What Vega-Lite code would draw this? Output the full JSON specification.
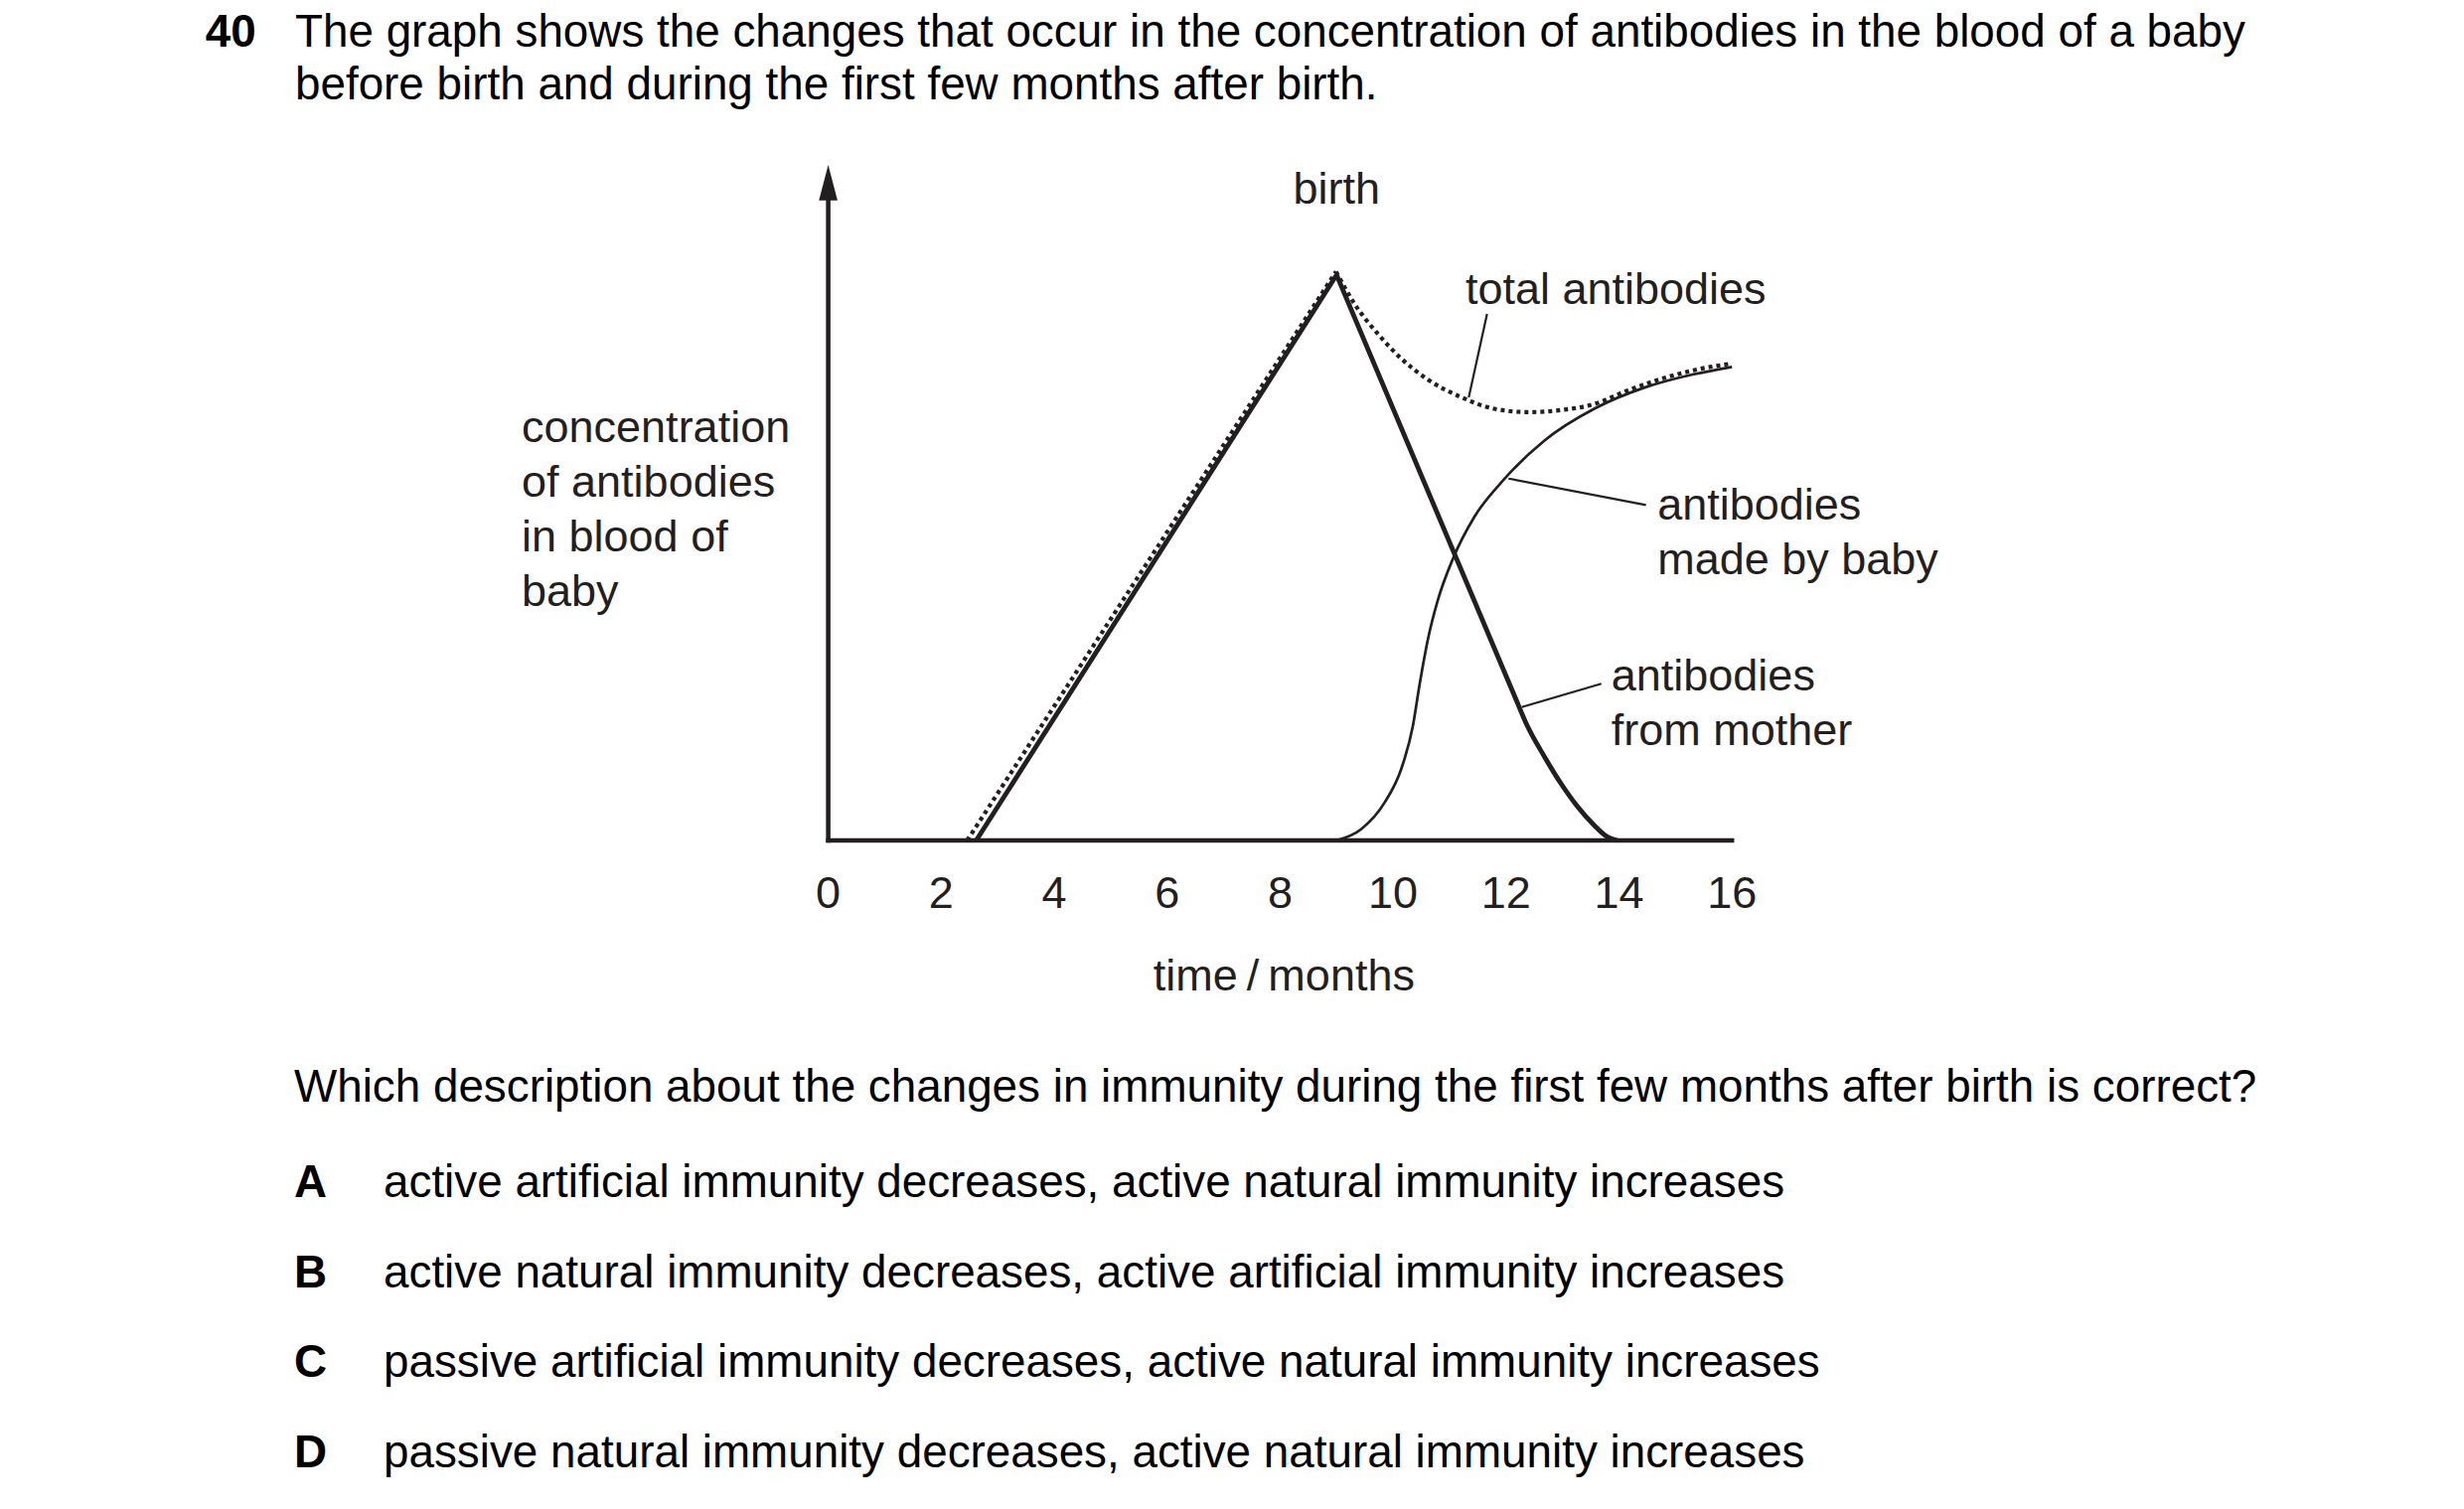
{
  "$schema": "https://vega.github.io/schema/vega-lite/v6.json",
  "width": 2480,
  "height": 1519,
  "autosize": {"type": "fit", "contains": "padding"},
  "padding": 0,
  "background": "white",
  "config": {"view": {"stroke": null}, "text": {"font": "Liberation Sans"}},
  "datasets": {
    "curves": [
      {"series": "mother", "seg": "rise", "month": 2.62, "conc": 0},
      {"series": "mother", "seg": "rise", "month": 9.0, "conc": 83.7},
      {"series": "mother", "seg": "fall", "month": 9.0, "conc": 83.7},
      {"series": "mother", "seg": "fall", "month": 12.15, "conc": 21.4},
      {"series": "mother", "seg": "fall", "month": 12.38, "conc": 16.9},
      {"series": "mother", "seg": "fall", "month": 12.68, "conc": 12.4},
      {"series": "mother", "seg": "fall", "month": 12.97, "conc": 8.45},
      {"series": "mother", "seg": "fall", "month": 13.26, "conc": 5.07},
      {"series": "mother", "seg": "fall", "month": 13.56, "conc": 2.25},
      {"series": "mother", "seg": "fall", "month": 13.79, "conc": 0.56},
      {"series": "mother", "seg": "fall", "month": 13.97, "conc": 0},
      {"series": "baby", "seg": "all", "month": 9.0, "conc": 0},
      {"series": "baby", "seg": "all", "month": 9.44, "conc": 1.7},
      {"series": "baby", "seg": "all", "month": 9.85, "conc": 5.6},
      {"series": "baby", "seg": "all", "month": 10.15, "conc": 10.7},
      {"series": "baby", "seg": "all", "month": 10.35, "conc": 16.9},
      {"series": "baby", "seg": "all", "month": 10.47, "conc": 23.1},
      {"series": "baby", "seg": "all", "month": 10.62, "conc": 29.9},
      {"series": "baby", "seg": "all", "month": 10.79, "conc": 35.5},
      {"series": "baby", "seg": "all", "month": 11.06, "conc": 41.7},
      {"series": "baby", "seg": "all", "month": 11.44, "conc": 47.9},
      {"series": "baby", "seg": "all", "month": 11.97, "conc": 53.5},
      {"series": "baby", "seg": "all", "month": 12.68, "conc": 59.2},
      {"series": "baby", "seg": "all", "month": 13.56, "conc": 63.9},
      {"series": "baby", "seg": "all", "month": 14.44, "conc": 67.0},
      {"series": "baby", "seg": "all", "month": 15.32, "conc": 69.0},
      {"series": "baby", "seg": "all", "month": 16.0, "conc": 70.1},
      {"series": "total", "seg": "rise", "month": 2.46, "conc": 0},
      {"series": "total", "seg": "rise", "month": 8.99, "conc": 84.2},
      {"series": "total", "seg": "fall", "month": 8.99, "conc": 84.2},
      {"series": "total", "seg": "fall", "month": 9.32, "conc": 79.4},
      {"series": "total", "seg": "fall", "month": 9.74, "conc": 74.9},
      {"series": "total", "seg": "fall", "month": 10.15, "conc": 71.3},
      {"series": "total", "seg": "fall", "month": 10.62, "conc": 68.2},
      {"series": "total", "seg": "fall", "month": 11.21, "conc": 65.6},
      {"series": "total", "seg": "fall", "month": 11.79, "conc": 63.9},
      {"series": "total", "seg": "fall", "month": 12.38, "conc": 63.4},
      {"series": "total", "seg": "fall", "month": 12.97, "conc": 63.7},
      {"series": "total", "seg": "fall", "month": 13.56, "conc": 64.6},
      {"series": "total", "seg": "fall", "month": 14.15, "conc": 66.6},
      {"series": "total", "seg": "fall", "month": 14.74, "conc": 68.3},
      {"series": "total", "seg": "fall", "month": 15.32, "conc": 69.6},
      {"series": "total", "seg": "fall", "month": 16.0, "conc": 70.6}
    ],
    "axislines": [
      {"month": 0, "conc": 0, "month2": 16, "conc2": 0},
      {"month": 0, "conc": 0, "month2": 0, "conc2": 95.5}
    ],
    "ticks": [
      {"month": 0}, {"month": 2}, {"month": 4}, {"month": 6}, {"month": 8},
      {"month": 10}, {"month": 12}, {"month": 14}, {"month": 16}
    ],
    "leaders": [
      {"month": 11.664, "conc": 77.94, "month2": 11.34, "conc2": 65.59},
      {"month": 12.044, "conc": 53.57, "month2": 14.478, "conc2": 49.66},
      {"month": 12.28, "conc": 19.75, "month2": 13.687, "conc2": 23.19}
    ],
    "labels": [
      {"text": "total antibodies", "month": 11.28, "conc": 79.46},
      {"text": "antibodies", "month": 14.68, "conc": 47.46},
      {"text": "made by baby", "month": 14.68, "conc": 39.37},
      {"text": "antibodies", "month": 13.863, "conc": 22.21},
      {"text": "from mother", "month": 13.863, "conc": 14.12},
      {"text": "concentration", "month": -5.428, "conc": 58.97},
      {"text": "of antibodies", "month": -5.428, "conc": 50.88},
      {"text": "in blood of", "month": -5.428, "conc": 42.79},
      {"text": "baby", "month": -5.428, "conc": 34.71}
    ],
    "centred": [
      {"text": "birth", "month": 9.0, "conc": 94.26},
      {"text": "0", "month": 0, "conc": -10.0},
      {"text": "2", "month": 2, "conc": -10.0},
      {"text": "4", "month": 4, "conc": -10.0},
      {"text": "6", "month": 6, "conc": -10.0},
      {"text": "8", "month": 8, "conc": -10.0},
      {"text": "10", "month": 10, "conc": -10.0},
      {"text": "12", "month": 12, "conc": -10.0},
      {"text": "14", "month": 14, "conc": -10.0},
      {"text": "16", "month": 16, "conc": -10.0},
      {"text": "time\u2009/\u2009months", "month": 8.07, "conc": -22.2}
    ],
    "question": [
      {"text": "The graph shows the changes that occur in the concentration of antibodies in the blood of a baby", "month": -9.439, "conc": 117.5},
      {"text": "before birth and during the first few months after birth.", "month": -9.439, "conc": 109.7},
      {"text": "Which description about the changes in immunity during the first few months after birth is correct?", "month": -9.457, "conc": -38.72},
      {"text": "active artificial immunity decreases, active natural immunity increases", "month": -7.873, "conc": -52.79},
      {"text": "active natural immunity decreases, active artificial immunity increases", "month": -7.873, "conc": -66.12},
      {"text": "passive artificial immunity decreases, active natural immunity increases", "month": -7.873, "conc": -79.44},
      {"text": "passive natural immunity decreases, active natural immunity increases", "month": -7.873, "conc": -92.76}
    ],
    "bold": [
      {"text": "40", "month": -11.027, "conc": 117.5},
      {"text": "A", "month": -9.457, "conc": -52.79},
      {"text": "B", "month": -9.457, "conc": -66.12},
      {"text": "C", "month": -9.457, "conc": -79.44},
      {"text": "D", "month": -9.457, "conc": -92.76}
    ]
  },
  "encoding": {
    "x": {"field": "month", "type": "quantitative", "axis": null, "scale": {"domain": [-14.663, 28.96], "nice": false, "zero": false}},
    "y": {"field": "conc", "type": "quantitative", "axis": null, "scale": {"domain": [-98.97, 124.41], "nice": false, "zero": false}}
  },
  "layer": [
    {
      "data": {"values": [{"month": 9.0}]},
      "mark": {"type": "rule", "color": "#231f20", "strokeWidth": 2, "strokeDash": [11, 7]},
      "encoding": {"y": {"datum": 0}, "y2": {"datum": 92.06}}
    },
    {
      "data": {"name": "curves"},
      "transform": [{"filter": "datum.series == 'mother'"}],
      "mark": {"type": "line", "interpolate": "monotone", "color": "#231f20", "strokeWidth": 4.8, "strokeJoin": "miter"},
      "encoding": {"detail": {"field": "seg"}, "order": {"field": "month"}}
    },
    {
      "data": {"name": "curves"},
      "transform": [{"filter": "datum.series == 'baby'"}],
      "mark": {"type": "line", "interpolate": "monotone", "color": "#231f20", "strokeWidth": 2.7},
      "encoding": {"order": {"field": "month"}}
    },
    {
      "data": {"name": "curves"},
      "transform": [{"filter": "datum.series == 'total'"}],
      "mark": {"type": "line", "interpolate": "monotone", "color": "#231f20", "strokeWidth": 4.2, "strokeDash": [4, 4], "strokeCap": "butt"},
      "encoding": {"detail": {"field": "seg"}, "order": {"field": "month"}}
    },
    {
      "data": {"name": "axislines"},
      "mark": {"type": "rule", "color": "#231f20", "strokeWidth": 4.5, "strokeCap": "square"},
      "encoding": {"x2": {"field": "month2"}, "y2": {"field": "conc2"}}
    },
    {
      "data": {"name": "ticks"},
      "mark": {"type": "rule", "color": "#231f20", "strokeWidth": 4},
      "encoding": {"y": {"datum": 0}, "y2": {"datum": -4.07}}
    },
    {
      "data": {"values": [{"month": 0, "conc": 97.375}]},
      "mark": {"type": "point", "shape": "M0,-1L0.524,1L-0.524,1Z", "size": 1274, "filled": true, "color": "#231f20", "opacity": 1, "strokeWidth": 0}
    },
    {
      "data": {"name": "leaders"},
      "mark": {"type": "rule", "color": "#231f20", "strokeWidth": 2.2},
      "encoding": {"x2": {"field": "month2"}, "y2": {"field": "conc2"}}
    },
    {
      "data": {"name": "labels"},
      "mark": {"type": "text", "align": "left", "baseline": "alphabetic", "fontSize": 45, "color": "#231f20"},
      "encoding": {"text": {"field": "text"}}
    },
    {
      "data": {"name": "centred"},
      "mark": {"type": "text", "align": "center", "baseline": "alphabetic", "fontSize": 45, "color": "#231f20"},
      "encoding": {"text": {"field": "text"}}
    },
    {
      "data": {"name": "question"},
      "mark": {"type": "text", "align": "left", "baseline": "alphabetic", "fontSize": 45.8, "color": "#000000"},
      "encoding": {"text": {"field": "text"}}
    },
    {
      "data": {"name": "bold"},
      "mark": {"type": "text", "align": "left", "baseline": "alphabetic", "fontSize": 45.8, "fontWeight": "bold", "color": "#000000"},
      "encoding": {"text": {"field": "text"}}
    }
  ]
}
